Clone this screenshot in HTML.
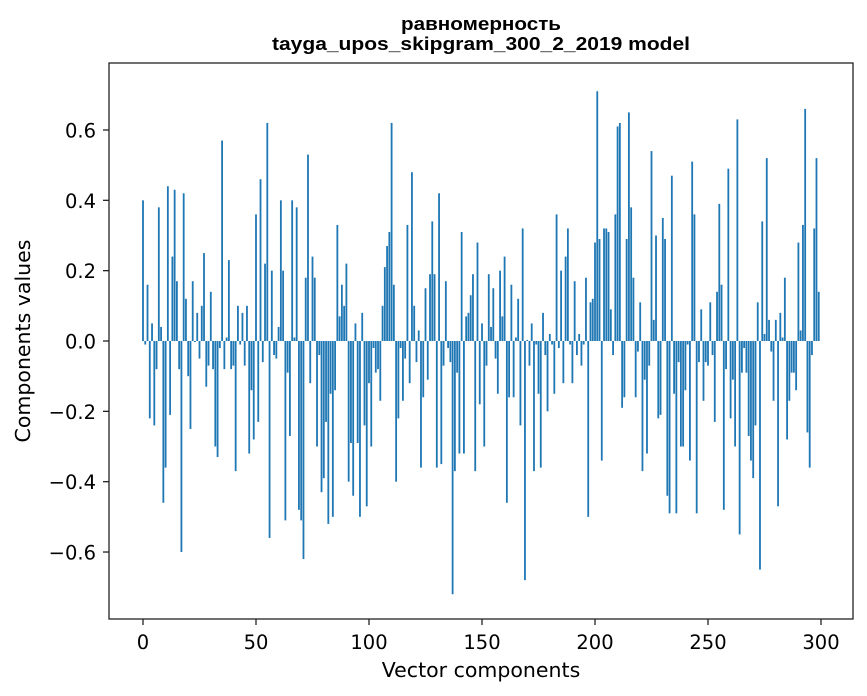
<!DOCTYPE html>
<html><head><meta charset="utf-8"><style>
body{margin:0;background:#fff;}
svg{display:block;font-family:"DejaVu Sans","Liberation Sans",sans-serif;}
.ttl{font-family:"Liberation Sans",Arial,sans-serif;font-weight:bold;}
</style></head><body>
<svg id="chart" width="867" height="696" viewBox="0 0 867 696">
<rect x="0" y="0" width="867" height="696" fill="#fff"/>
<text class="ttl" x="481" y="30" text-anchor="middle" font-size="18" textLength="160" lengthAdjust="spacingAndGlyphs">равномерность</text>
<text class="ttl" x="481" y="50" text-anchor="middle" font-size="18" textLength="418" lengthAdjust="spacingAndGlyphs">tayga_upos_skipgram_300_2_2019 model</text>
<g id="bars"></g>
<g id="axes"></g>
<rect x="109" y="63" width="744" height="556" fill="none" stroke="#222" stroke-width="1.3"/>
<text x="481" y="677" text-anchor="middle" font-size="20.5">Vector components</text>
<text transform="translate(30,341) rotate(-90)" text-anchor="middle" font-size="20.5">Components values</text>
</svg>
<script>
const values = [
0.40,-0.01,0.16,-0.22,0.05,-0.24,-0.08,0.38,0.04,-0.46,-0.36,0.44,-0.21,0.24,0.43,0.17,-0.08,-0.60,0.42,0.12,-0.10,-0.25,0.17,-0.003,0.08,-0.05,0.10,0.25,-0.13,-0.07,0.14,-0.08,-0.30,-0.33,-0.02,0.57,-0.08,0.01,0.23,-0.08,-0.07,-0.37,0.10,-0.01,0.08,-0.07,0.10,-0.32,-0.14,-0.28,
0.36,-0.23,0.46,-0.06,0.22,0.62,-0.56,0.20,-0.04,-0.05,0.04,0.40,0.20,-0.51,-0.09,-0.27,0.40,0.01,0.38,-0.48,-0.51,-0.62,0.18,0.53,-0.12,0.24,0.18,-0.30,-0.04,-0.43,-0.39,-0.23,-0.52,-0.15,-0.50,-0.14,0.33,0.07,0.16,0.10,0.22,-0.40,-0.29,-0.44,0.05,-0.29,-0.50,0.08,-0.24,-0.47,
-0.12,-0.30,-0.02,-0.09,-0.08,-0.17,0.10,0.21,0.27,0.31,0.62,0.16,-0.40,-0.22,-0.02,-0.17,-0.05,0.33,-0.12,0.48,0.10,-0.06,0.03,-0.36,-0.16,0.15,-0.11,0.19,0.34,0.19,-0.36,0.42,-0.35,-0.07,0.17,-0.02,-0.06,-0.72,-0.37,-0.09,-0.32,0.31,-0.32,0.07,0.08,0.13,0.19,-0.37,0.28,-0.18,
0.05,-0.30,-0.07,0.19,0.04,0.15,-0.05,-0.15,0.20,0.07,0.24,-0.46,-0.16,0.16,-0.16,0.01,0.12,-0.24,0.32,-0.68,0.003,-0.07,0.05,-0.37,-0.01,-0.15,-0.36,0.08,-0.04,-0.20,0.02,-0.01,-0.15,0.36,-0.02,0.20,-0.12,0.24,0.32,-0.01,-0.12,0.17,-0.04,0.02,-0.07,-0.01,0.18,-0.50,0.11,0.12,
0.28,0.71,0.29,-0.34,0.32,0.32,0.31,0.09,-0.04,0.36,0.61,0.62,-0.19,-0.16,0.29,0.65,0.38,0.18,-0.16,-0.03,0.11,-0.37,-0.11,-0.32,-0.07,0.54,0.06,0.30,-0.22,-0.21,0.35,0.29,-0.44,-0.49,0.47,-0.15,-0.49,-0.06,-0.30,-0.30,-0.14,-0.01,-0.34,0.51,0.36,-0.49,-0.06,0.09,-0.17,-0.06,
-0.07,0.11,-0.04,-0.23,0.14,0.39,0.16,-0.48,-0.08,0.49,-0.22,-0.11,-0.30,0.63,-0.55,-0.09,-0.02,-0.09,-0.27,-0.34,-0.39,-0.24,0.11,-0.65,0.34,0.02,0.52,0.06,-0.03,-0.17,0.06,-0.47,0.08,0.01,0.18,-0.28,-0.17,-0.09,-0.09,-0.14,0.28,0.03,0.33,0.66,-0.26,-0.36,-0.04,0.32,0.52,0.14
];
const xTicks = [0,50,100,150,200,250,300];
const yTicks = [-0.6,-0.4,-0.2,0.0,0.2,0.4,0.6];
const NS = "http://www.w3.org/2000/svg";
function xs(v){return 143 + v*2.26;}
function ys(v){return 341 - v*351.7;}
const bw = 0.8*2.26;
const bars = document.getElementById('bars');
values.forEach((v,i)=>{
  const r = document.createElementNS(NS,'rect');
  const y0 = ys(0), y1 = ys(v);
  r.setAttribute('x', xs(i)-bw/2);
  r.setAttribute('y', Math.min(y0,y1));
  r.setAttribute('width', bw);
  r.setAttribute('height', Math.max(Math.abs(y1-y0),0.3));
  r.setAttribute('fill', '#1f77b4');
  
  
  bars.appendChild(r);
});
const axes = document.getElementById('axes');
xTicks.forEach(t=>{
  const l = document.createElementNS(NS,'line');
  l.setAttribute('x1', xs(t)); l.setAttribute('x2', xs(t));
  l.setAttribute('y1', 619); l.setAttribute('y2', 625);
  l.setAttribute('stroke', '#222'); l.setAttribute('stroke-width', '1.3');
  
  
  axes.appendChild(l);
  const tx = document.createElementNS(NS,'text');
  tx.setAttribute('x', xs(t)); tx.setAttribute('y', 649);
  tx.setAttribute('text-anchor', 'middle'); tx.setAttribute('font-size', '19.5');
  tx.textContent = String(t);
  
  
  axes.appendChild(tx);
});
yTicks.forEach(t=>{
  const l = document.createElementNS(NS,'line');
  l.setAttribute('x1', 103); l.setAttribute('x2', 109);
  l.setAttribute('y1', ys(t)); l.setAttribute('y2', ys(t));
  l.setAttribute('stroke', '#222'); l.setAttribute('stroke-width', '1.3');
  
  
  axes.appendChild(l);
  const tx = document.createElementNS(NS,'text');
  tx.setAttribute('x', 96); tx.setAttribute('y', ys(t)+7.5);
  tx.setAttribute('text-anchor', 'end'); tx.setAttribute('font-size', '19.5');
  tx.textContent = (t<0?'\u2212':'') + Math.abs(t).toFixed(1);
  
  
  axes.appendChild(tx);
});
</script>
</body></html>
